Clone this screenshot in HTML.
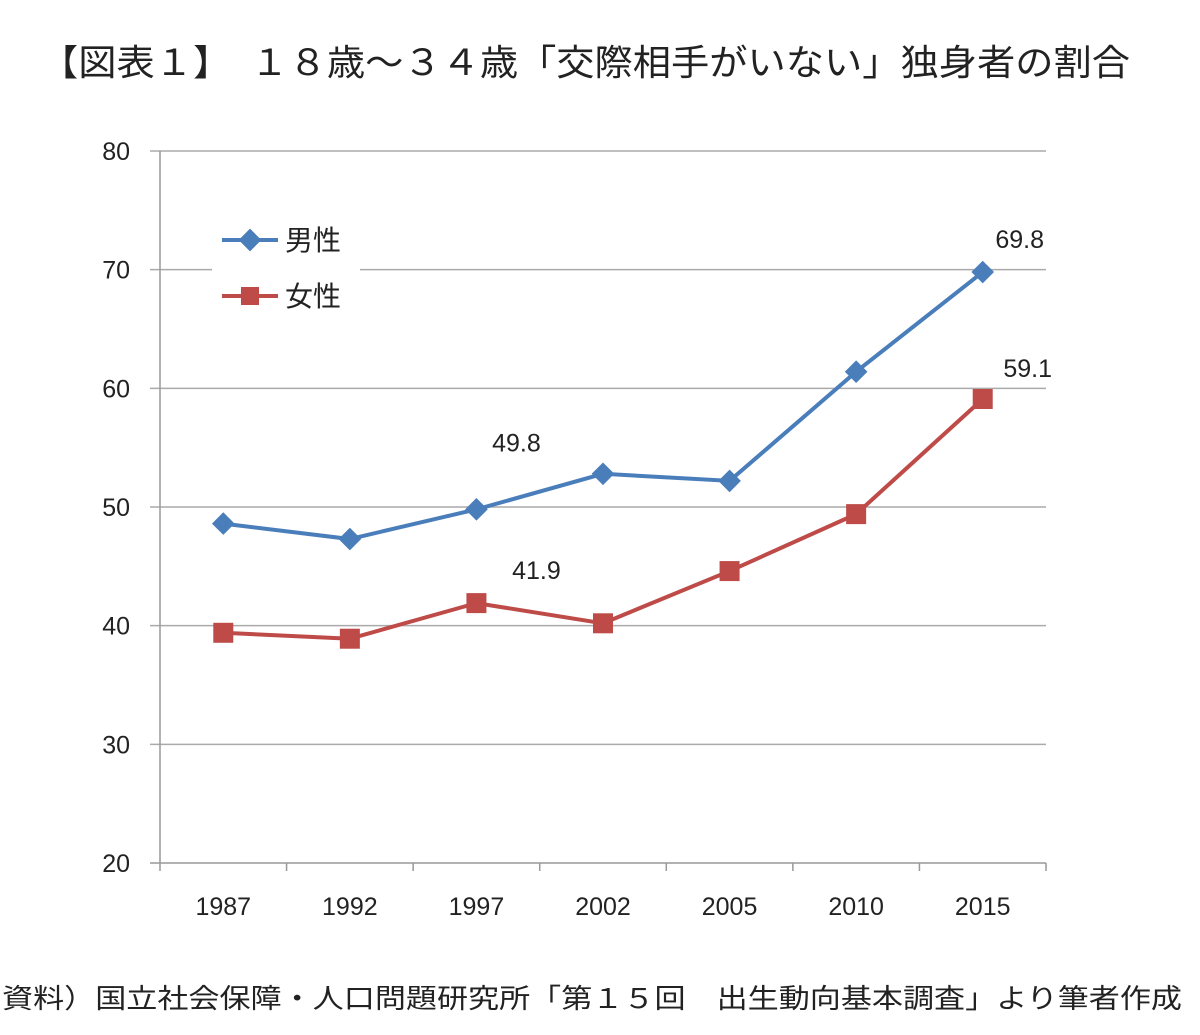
<!DOCTYPE html>
<html><head><meta charset="utf-8"><style>
body{margin:0;background:#fff;}
svg{display:block;font-family:"Liberation Sans","Noto Sans CJK JP",sans-serif;}
</style></head><body>
<svg id="c" width="1200" height="1035">
<text x="40" y="75" font-size="36" fill="#222" textLength="1090" lengthAdjust="spacingAndGlyphs">【図表１】　１８歳～３４歳「交際相手がいない」独身者の割合</text>
<text x="2" y="1008" font-size="27" fill="#222" textLength="1180" lengthAdjust="spacingAndGlyphs">資料）国立社会保障・人口問題研究所「第１５回　出生動向基本調査」より筆者作成</text>
<g id="grid"></g><g id="axes"></g><g id="series"></g>
<g>
<rect x="212" y="215" width="148" height="105" fill="#fff"/>
<line x1="222" y1="240" x2="278" y2="240" stroke="#4a7ebb" stroke-width="4"/>
<rect x="242" y="232" width="16" height="16" fill="#4a7ebb" transform="rotate(45 250 240)"/>
<text x="285" y="250" font-size="28" fill="#222">男性</text>
<line x1="222" y1="296" x2="278" y2="296" stroke="#be4b48" stroke-width="4"/>
<rect x="241" y="287" width="18" height="18" fill="#be4b48"/>
<text x="285" y="306" font-size="28" fill="#222">女性</text>
</g>
</svg>
<script>
const categories=["1987","1992","1997","2002","2005","2010","2015"];
const male=[48.6,47.3,49.8,52.8,52.2,61.4,69.8];
const female=[39.4,38.9,41.9,40.2,44.6,49.4,59.1];
const yTicks=[20,30,40,50,60,70,80];
const NS="http://www.w3.org/2000/svg";
const x0=160,x1=1046,yTop=151,yBot=863,yMin=20,yMax=80;
const bw=(x1-x0)/categories.length;
const X=i=>x0+bw*(i+0.5);
const Y=v=>yBot-(v-yMin)/(yMax-yMin)*(yBot-yTop);
function mk(tag,attrs,parent,txt){const e=document.createElementNS(NS,tag);for(const k in attrs)e.setAttribute(k,attrs[k]);if(txt!==undefined)e.textContent=txt;document.getElementById(parent).appendChild(e);return e;}
yTicks.forEach(t=>{
 const g=mk('line',{x1:150,x2:x1,y1:Y(t),y2:Y(t),stroke:t===20?'#999':'#aaa','stroke-width':1.5},'grid');
 
 
 const l=mk('text',{x:130,y:Y(t)+9,'font-size':25,'text-anchor':'end',fill:'#222'},'axes',t);
 
 
});
const ya=mk('line',{x1:x0,x2:x0,y1:yTop,y2:yBot,stroke:'#999','stroke-width':1.5},'axes');


for(let i=0;i<=categories.length;i++){mk('line',{x1:x0+bw*i,x2:x0+bw*i,y1:yBot,y2:yBot+8,stroke:'#999','stroke-width':1.5},'axes');}
categories.forEach((c,i)=>{
 const t=mk('text',{x:X(i),y:915,'font-size':25,'text-anchor':'middle',fill:'#222'},'axes',c);
 
 
});
function series(vals,col,name,shape){
 const p=mk('polyline',{points:vals.map((v,i)=>X(i)+','+Y(v)).join(' '),fill:'none',stroke:col,'stroke-width':4},'series');
 
 
 vals.forEach((v,i)=>{
  let m;
  if(shape==='d'){m=mk('rect',{x:X(i)-8,y:Y(v)-8,width:16,height:16,fill:col,transform:`rotate(45 ${X(i)} ${Y(v)})`},'series');}
  else{m=mk('rect',{x:X(i)-10,y:Y(v)-10,width:20,height:20,fill:col},'series');}
  
  
 });
}
series(male,'#4a7ebb','male','d');
series(female,'#be4b48','female','s');
const labels=[[male,2,-58,40,'male'],[male,6,-24,37,'male'],[female,2,-24,60,'female'],[female,6,-22,45,'female']];
labels.forEach(([arr,i,dy,dx,n])=>{
 const t=mk('text',{x:X(i)+dx,y:Y(arr[i])+dy,'font-size':25,'text-anchor':'middle',fill:'#222'},'series',arr[i].toFixed(1));
 
 
});
</script>
</body></html>
